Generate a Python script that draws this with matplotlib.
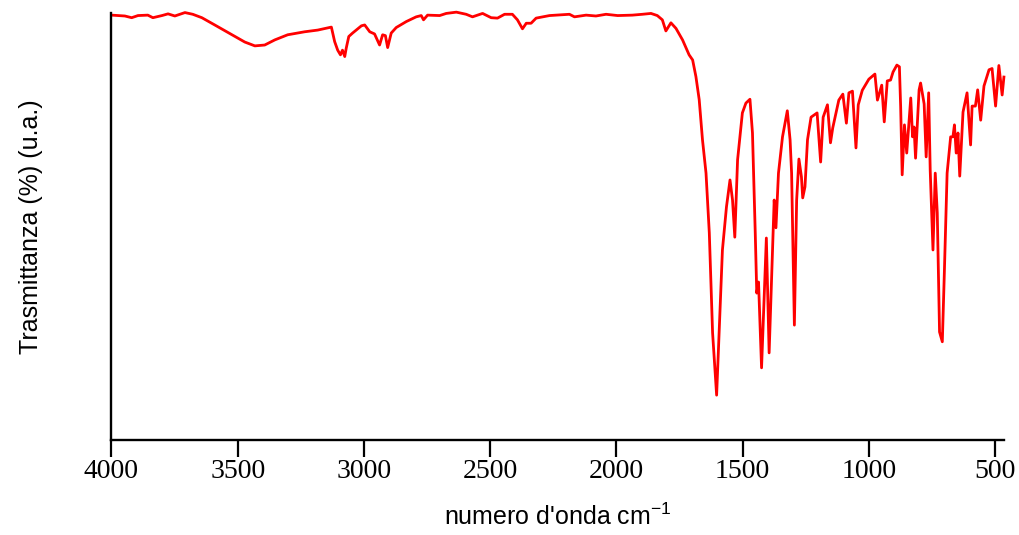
import numpy as np
import matplotlib.pyplot as plt

plt.rcParams['font.family'] = ['Liberation Sans', 'DejaVu Sans']
plt.rcParams['mathtext.default'] = 'regular'

# wavenumber (cm-1) and transmittance (%)
wavenumber = [
    3999, 3947, 3920, 3895, 3856, 3836, 3800, 3776, 3749, 3709, 3678, 3642,
    3591, 3523, 3472, 3432, 3393, 3353, 3302, 3235, 3183, 3129, 3116, 3104,
    3093, 3085, 3076, 3070, 3060, 3045, 3010, 2997, 2977, 2958, 2938, 2926,
    2915, 2906, 2892, 2872, 2832, 2793, 2773, 2764, 2748, 2700, 2674, 2634,
    2595, 2570, 2530, 2496, 2471, 2443, 2412, 2392, 2372, 2357, 2338, 2318,
    2265, 2186, 2166, 2120, 2081, 2041, 1995, 1937, 1897, 1863, 1838, 1818,
    1804, 1784, 1764, 1738, 1712, 1698, 1685, 1672, 1659, 1645, 1632, 1619,
    1603, 1593, 1580, 1564, 1550, 1540, 1531, 1520, 1501, 1487, 1471, 1461,
    1450, 1444, 1437, 1425, 1415, 1406, 1395, 1384, 1375, 1368, 1358, 1342,
    1323, 1312, 1306, 1295, 1286, 1277, 1267, 1262, 1253, 1243, 1229, 1205,
    1191, 1181, 1164, 1152, 1143, 1131, 1119, 1103, 1089, 1079, 1065, 1051,
    1042, 1026, 1000, 976, 966, 949, 939, 927, 914, 904, 889, 879,
    874, 868, 859, 850, 834, 827, 821, 815, 801, 795, 781, 773,
    763, 757, 746, 737, 729, 720, 709, 701, 690, 676, 667, 661,
    654, 647, 640, 627, 611, 597, 591, 578, 569, 557, 544, 524,
    512, 498, 485, 472, 465,
]
transmittance = [
    99.5, 99.3, 98.9, 99.4, 99.5, 98.9, 99.4, 99.8, 99.3, 100.1, 99.7, 98.9,
    97.2, 94.9, 93.2, 92.3, 92.5, 93.7, 94.9, 95.6, 96.0, 96.7, 93.3, 91.3,
    90.2, 91.3, 89.8, 91.8, 94.5, 95.3, 97.0, 97.2, 95.6, 95.1, 92.5, 94.9,
    94.7, 91.9, 95.3, 96.6, 98.0, 99.1, 99.4, 98.4, 99.5, 99.4, 99.9, 100.2,
    99.7, 99.1, 99.9, 98.9, 98.8, 99.7, 99.7, 98.4, 96.3, 97.6, 97.6, 98.8,
    99.4, 99.7, 99.1, 99.5, 99.3, 99.7, 99.4, 99.5, 99.7, 99.9, 99.4, 98.4,
    95.8, 97.7, 96.4, 93.7, 90.2, 89.0, 85.1, 79.7, 70.3, 62.5, 48.5, 25.1,
    10.5, 25.1, 44.5, 54.6, 60.9, 56.2, 47.5, 65.6, 76.6, 78.9, 79.8, 71.9,
    48.5, 34.4, 37.0, 16.9, 32.8, 47.3, 20.4, 40.5, 56.2, 49.7, 62.5, 71.0,
    77.1, 70.3, 62.5, 26.9, 56.2, 65.8, 61.6, 56.7, 59.3, 70.3, 75.6, 76.6,
    65.1, 75.6, 78.5, 69.6, 73.1, 76.3, 79.6, 81.0, 74.2, 81.3, 81.7, 68.4,
    78.5, 81.9, 84.5, 85.7, 79.6, 83.1, 74.5, 84.1, 84.3, 86.2, 87.8, 87.4,
    78.0, 62.1, 73.8, 67.2, 80.1, 71.0, 73.3, 66.0, 82.0, 83.6, 78.7, 66.3,
    81.3, 63.2, 44.5, 62.5, 53.2, 25.3, 23.0, 39.1, 62.5, 71.0, 71.0, 73.8,
    67.2, 71.9, 61.8, 76.8, 81.3, 69.1, 78.2, 78.2, 82.0, 74.9, 82.9, 86.7,
    87.0, 78.2, 87.7, 80.8, 85.0,
]
xticks = [4000, 3500, 3000, 2500, 2000, 1500, 1000, 500]

fig = plt.figure(figsize=(10.19, 5.35), dpi=100)
ax = fig.add_axes([0.1094, 0.1776, 0.8758, 0.7981])

ax.plot(wavenumber, transmittance, color='#ff0000', lw=2, clip_on=False)

ax.set_xlim(4000, 465)
ax.set_ylim(0, 100)
ax.set_xticks(xticks)
ax.set_xticklabels([str(t) for t in xticks], family='Liberation Serif', fontsize=20)
ax.set_yticks([])
ax.tick_params(axis='x', direction='out', length=12, width=1.6, pad=2)

for side in ['top', 'right']:
    ax.spines[side].set_visible(False)
for side in ['left', 'bottom']:
    ax.spines[side].set_linewidth(1.7)

ax.set_xlabel("numero d'onda cm$^{-1}$", fontsize=18, labelpad=14)
ax.set_ylabel("Trasmittanza (%) (u.a.)", fontsize=18, labelpad=49)

fig.savefig('out.png', dpi=100)
